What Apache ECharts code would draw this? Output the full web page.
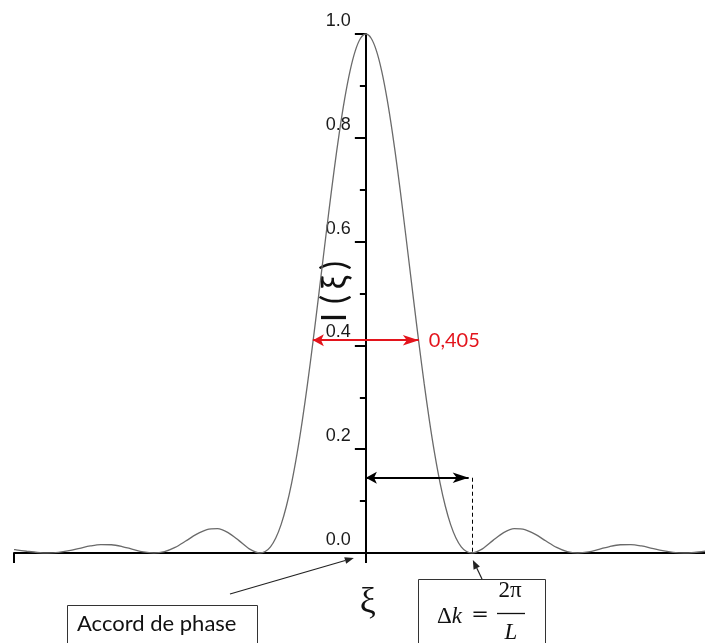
<!DOCTYPE html>
<html><head><meta charset="utf-8">
<script src="https://cdn.jsdelivr.net/npm/echarts@6/dist/echarts.min.js"></script>
<style>html,body{margin:0;padding:0;background:#fff}#c{width:705px;height:643px}</style>
</head><body><div id="c"></div>
<script>
// ξ in units of π (first zero at ξ = 1)
const xi = [-3.32,-3.3,-3.2,-3.1,-3.0,-2.9,-2.8,-2.7,-2.6,-2.5,-2.4,-2.3,-2.2,-2.1,-2.0,-1.9,-1.8,-1.7,-1.6,-1.5,-1.4,-1.3,-1.2,-1.1,-1.0,
  -0.95,-0.9,-0.85,-0.8,-0.75,-0.7,-0.65,-0.6,-0.55,-0.5,-0.45,-0.4,-0.35,-0.3,-0.25,-0.2,-0.15,-0.1,-0.05,0,
  0.05,0.1,0.15,0.2,0.25,0.3,0.35,0.4,0.45,0.5,0.55,0.6,0.65,0.7,0.75,0.8,0.85,0.9,0.95,1.0,
  1.1,1.2,1.3,1.4,1.5,1.6,1.7,1.8,1.9,2.0,2.1,2.2,2.3,2.4,2.5,2.6,2.7,2.8,2.9,3.0,3.1,3.2];
const intensity = [0.0066,0.0061,0.0034,0.0010,0,0.0012,0.0045,0.0091,0.0136,0.0162,0.0159,0.0125,0.0072,0.0022,0,0.0027,0.0108,0.0230,0.0358,0.0450,0.0468,0.0392,0.0243,0.0080,0,
  0.0028,0.0119,0.0289,0.0547,0.0901,0.1353,0.1904,0.2546,0.3268,0.4053,0.4881,0.5728,0.6566,0.7368,0.8106,0.8751,0.9281,0.9675,0.9918,1,
  0.9918,0.9675,0.9281,0.8751,0.8106,0.7368,0.6566,0.5728,0.4881,0.4053,0.3268,0.2546,0.1904,0.1353,0.0901,0.0547,0.0289,0.0119,0.0028,0,
  0.0080,0.0243,0.0392,0.0468,0.0450,0.0358,0.0230,0.0108,0.0027,0,0.0022,0.0072,0.0125,0.0159,0.0162,0.0136,0.0091,0.0045,0.0012,0,0.0010,0.0034];
const xTicks = [-3.32, 0];
const yTickLabels = ['0.0','0.2','0.4','0.6','0.8','1.0'];
const fwhmLevel = 0.41;
const fwhmX = [-0.5, 0.5];
const fwhmText = '0,405';
const deltaLevel = 0.145;
const deltaX = [0, 0.97];
const firstZero = 1;
const yAxisTitleParts = ['I', '(', 'ξ', ')'];
const xAxisTitle = 'ξ';
const boxPhase = 'Accord de phase';

const chart = echarts.init(document.getElementById('c'), null, {renderer: 'canvas'});
const option = {
  animation: false,
  backgroundColor: '#fff',
  grid: {left: 14, right: 0, top: 34, bottom: 90, containLabel: false, outerBoundsMode: 'none'},
  xAxis: {
    type: 'value', min: -3.32, max: 3.2,
    axisLine: {show: true, onZero: false, lineStyle: {color: '#000', width: 2}},
    axisTick: {show: true, customValues: xTicks, length: 10, lineStyle: {color: '#000', width: 2}},
    axisLabel: {show: false},
    splitLine: {show: false}
  },
  yAxis: {
    type: 'value', min: 0, max: 1, interval: 0.2,
    axisLine: {show: true, onZero: false, lineStyle: {color: '#000', width: 2}},
    axisTick: {show: true, length: 11, lineStyle: {color: '#000', width: 2}},
    minorTick: {show: true, splitNumber: 2, length: 6, lineStyle: {color: '#000', width: 2}},
    axisLabel: {
      margin: 15, fontSize: 18, fontFamily: 'Liberation Sans', color: '#1a1a1a',
      verticalAlign: 'bottom', padding: [0, 0, 4, 0],
      formatter: v => yTickLabels[Math.round(v / 0.2)]
    },
    splitLine: {show: false}
  },
  series: [{
    type: 'line',
    data: xi.map((x, i) => [x, intensity[i]]),
    smooth: 0.3,
    showSymbol: false,
    lineStyle: {color: '#6a6a6a', width: 1.3},
    z: 1,
    markLine: {
      silent: true,
      animation: false,
      data: [
        [{coord: [fwhmX[0], fwhmLevel], symbol: 'arrow', symbolSize: [9, 11], lineStyle: {color: '#e3141c', width: 2, type: 'solid'},
          label: {show: true, position: 'end', formatter: fwhmText, color: '#e3141c', fontSize: 20, fontFamily: 'Lato', distance: 10}},
         {coord: [fwhmX[1], fwhmLevel], symbol: 'arrow'}],
        [{coord: [deltaX[0], deltaLevel], symbol: 'arrow', symbolSize: [9, 11], lineStyle: {color: '#000', width: 2, type: 'solid'}, label: {show: false}},
         {coord: [deltaX[1], deltaLevel], symbol: 'arrow'}],
        [{coord: [firstZero, deltaLevel], symbol: 'none', lineStyle: {color: '#000', width: 1, type: [4, 3]}, label: {show: false}},
         {coord: [firstZero, 0], symbol: 'none'}]
      ]
    }
  }]
};
chart.setOption(option);

// move the y axis (line, ticks, labels) onto ξ = 0
const gridLeft = chart.convertToPixel({gridIndex: 0}, [-3.32, 0])[0];
let o = chart.convertToPixel({gridIndex: 0}, [0, 0]);
chart.setOption({yAxis: {offset: -(o[0] - gridLeft)}});
o = chart.convertToPixel({gridIndex: 0}, [0, 0]);

function arrow(x1, y1, x2, y2, w) {
  const dx = x2 - x1, dy = y2 - y1, L = Math.hypot(dx, dy);
  const ux = dx / L, uy = dy / L, hl = 9, hw = 3.5;
  const bx = x2 - ux * hl, by = y2 - uy * hl;
  return [
    {type: 'line', shape: {x1, y1, x2: bx, y2: by}, style: {stroke: '#222', lineWidth: w}, silent: true},
    {type: 'polygon', shape: {points: [[x2, y2], [bx - uy * hw, by + ux * hw], [bx + uy * hw, by - ux * hw]]}, style: {fill: '#222'}, silent: true}
  ];
}

const z1 = chart.convertToPixel({gridIndex: 0}, [firstZero, 0]);
const midY = (chart.convertToPixel({gridIndex: 0}, [0, 1])[1] + o[1]) / 2;
const g = [];
// rotated y title, glyph by glyph (reads bottom to top)
const partOffsets = [24, 6, -11, -28];
yAxisTitleParts.forEach((t, k) => {
  g.push({type: 'text', x: o[0] - 31, y: midY + partOffsets[k], rotation: Math.PI / 2,
    style: {text: t, font: '34px Lato', fill: '#111', align: 'center', verticalAlign: 'middle'}});
});
g.push({type: 'text', x: o[0] + 2, y: o[1] + 50,
  style: {text: xAxisTitle, font: '36px "Liberation Serif"', fill: '#111', align: 'center', verticalAlign: 'middle'}});
// Accord de phase box
g.push({type: 'rect', shape: {x: 67.5, y: 605.5, width: 190, height: 60}, style: {fill: '#fff', stroke: '#333', lineWidth: 1}});
g.push({type: 'text', x: 77, y: 624, style: {text: boxPhase, font: '22px Lato', fill: '#111', align: 'left', verticalAlign: 'middle'}});
g.push(...arrow(230, 594, o[0] - 12, o[1] + 5, 1.2));
// Δk box
g.push({type: 'rect', shape: {x: 418.5, y: 579.5, width: 127, height: 80}, style: {fill: '#fff', stroke: '#333', lineWidth: 1}});
g.push({type: 'text', x: 437, y: 617, style: {
  text: '{u|Δ}{i|k}', align: 'left', verticalAlign: 'middle',
  rich: {u: {font: '23px "Liberation Serif"', fill: '#111'}, i: {font: 'italic 23px "Liberation Serif"', fill: '#111'}}}});
g.push({type: 'text', x: 480, y: 616, style: {text: '=', font: '21px "DejaVu Serif"', fill: '#111', align: 'center', verticalAlign: 'middle'}});
g.push({type: 'text', x: 510, y: 591, style: {text: '2π', font: '23px "Liberation Serif"', fill: '#111', align: 'center', verticalAlign: 'middle'}});
g.push({type: 'line', shape: {x1: 497, y1: 613.5, x2: 525, y2: 613.5}, style: {stroke: '#111', lineWidth: 1.3}});
g.push({type: 'text', x: 511, y: 633, style: {text: 'L', font: 'italic 23px "Liberation Serif"', fill: '#111', align: 'center', verticalAlign: 'middle'}});
g.push(...arrow(482, 579, z1[0] + 1, z1[1] + 7, 1.2));
chart.setOption({graphic: g});
</script>
</body></html>
